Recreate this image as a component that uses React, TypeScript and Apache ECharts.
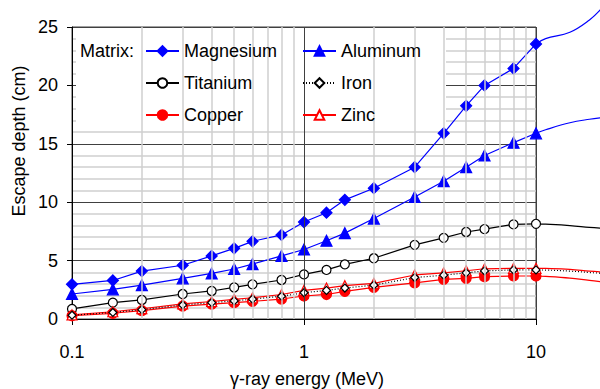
import React, { useEffect, useRef } from "react";
import * as echarts from "echarts";

const energies = [0.1, 0.15, 0.2, 0.3, 0.4, 0.5, 0.6, 0.8, 1, 1.25, 1.5, 2, 3, 4, 5, 6, 8, 10];
const magnesium = [2.97, 3.3, 4.1, 4.6, 5.4, 6.05, 6.65, 7.2, 8.3, 9.1, 10.2, 11.2, 13.0, 15.9, 18.25, 20.0, 21.45, 23.55];
const aluminum = [2.14, 2.54, 2.9, 3.48, 3.9, 4.28, 4.7, 5.4, 5.95, 6.7, 7.35, 8.6, 10.45, 11.8, 13.0, 14.0, 15.1, 15.9];
const titanium = [0.86, 1.4, 1.63, 2.14, 2.4, 2.7, 2.97, 3.34, 3.82, 4.2, 4.68, 5.2, 6.35, 6.95, 7.45, 7.7, 8.1, 8.15];
const copper = [0.28, 0.49, 0.71, 1.11, 1.27, 1.4, 1.51, 1.71, 1.97, 2.1, 2.37, 2.7, 3.1, 3.4, 3.48, 3.62, 3.68, 3.68];
const zinc = [0.35, 0.62, 0.88, 1.3, 1.5, 1.68, 1.82, 2.1, 2.45, 2.65, 2.85, 3.05, 3.77, 3.95, 4.13, 4.3, 4.34, 4.34];
const iron = [0.32, 0.56, 0.8, 1.2, 1.4, 1.55, 1.7, 1.95, 2.25, 2.45, 2.65, 2.9, 3.55, 3.75, 3.95, 4.12, 4.2, 4.2];

// Curves continuing past 10 MeV (no markers), running off the right edge
const extEnergies = [10, 11, 14, 17, 19];
const magnesiumExt = [23.55, 24.0, 24.55, 25.6, 26.5];
const aluminumExt = [15.9, 16.2, 16.8, 17.1, 17.22];
const titaniumExt = [8.15, 8.12, 8.0, 7.85, 7.78];
const copperExt = [3.68, 3.65, 3.5, 3.3, 3.2];
const zincExt = [4.34, 4.33, 4.25, 4.1, 4.03];
const ironExt = [4.2, 4.19, 4.1, 3.98, 3.92];

const minorEnergyLines = [0.2, 0.3, 0.4, 0.5, 0.6, 0.7, 0.8, 0.9, 2, 3, 4, 5, 6, 7, 8, 9];
const majorEnergyLines = [1];

const xTitle = "γ-ray energy (MeV)";
const yTitle = "Escape depth (cm)";
const legendTitle = "Matrix:";

const FONT = "Liberation Sans, Arial, sans-serif";

// layout
const W = 600;
const GL = 72, GR = 64, GT = 27, GB = 70;
const H = 389;

function pairs(xs: number[], ys: number[]) {
  return xs.map((x, i) => [x, ys[i]]);
}

export default function App() {
  const ref = useRef<HTMLDivElement>(null);
  useEffect(() => {
    if (!ref.current) return;
    const chart = echarts.init(ref.current, undefined, { renderer: "svg" });
    const blue = "#0000ff";
    const red = "#ff0000";
    const black = "#000000";
    const lw = 1.2;

    // second (hidden) coordinate system spanning to the page's right/top edges,
    // with the same scale as the main one
    const plotW = W - GL - GR;
    const plotH = H - GT - GB;
    const x2Max = Math.pow(10, -1 + (2 * (W - GL)) / plotW);
    const y2Max = (25 * (H - GB)) / plotH;

    const main = (name: string, ys: number[], color: string, symbol: string, size: number, fill: string, lineType: any = "solid", lineColor?: string) => ({
      name,
      type: "line",
      z: 3,
      data: pairs(energies, ys),
      symbol,
      symbolSize: size,
      showSymbol: true,
      lineStyle: { color: lineColor || color, width: lw, type: lineType },
      itemStyle: { color: fill, borderColor: color, borderWidth: 1.2 },
      emphasis: { disabled: true },
    });
    const ext = (name: string, ys: number[], color: string, lineType: any = "solid") => ({
      name: name + " ext",
      type: "line",
      xAxisIndex: 1,
      yAxisIndex: 1,
      z: 3,
      clip: false,
      smooth: 0.4,
      data: pairs(extEnergies, ys),
      symbol: "none",
      showSymbol: false,
      lineStyle: { color, width: lw, type: lineType },
      itemStyle: { color },
      emphasis: { disabled: true },
    });

    const legendCommon = {
      orient: "vertical",
      top: 42,
      padding: 0,
      itemWidth: 33,
      itemHeight: 12,
      itemGap: 14,
      textStyle: { fontSize: 18, color: black, fontFamily: FONT },
      selectedMode: false,
      z: 6,
    };

    chart.setOption({
      animation: false,
      backgroundColor: "#ffffff",
      grid: [
        {
          left: GL,
          right: GR,
          top: GT,
          bottom: GB,
          show: true,
          borderColor: "#404040",
          borderWidth: 1,
          backgroundColor: "transparent",
        },
        { left: GL, right: 0, top: 0, bottom: GB, show: false },
      ],
      xAxis: [
        {
          type: "log",
          logBase: 10,
          min: 0.1,
          max: 10,
          axisLine: { show: true, lineStyle: { color: black, width: 1 } },
          axisTick: { show: true, inside: false, length: 6, lineStyle: { color: black } },
          axisLabel: { color: black, fontSize: 18, fontFamily: FONT, margin: 24 },
          splitLine: { show: true, lineStyle: { color: "#404040", width: 1 } },
          minorTick: { show: false },
        },
        {
          type: "log",
          logBase: 10,
          gridIndex: 1,
          min: 0.1,
          max: x2Max,
          show: false,
        },
      ],
      yAxis: [
        {
          type: "value",
          min: 0,
          max: 25,
          interval: 5,
          axisLine: { show: true, lineStyle: { color: black, width: 1 } },
          axisTick: { show: true, inside: false, length: 5, lineStyle: { color: black } },
          axisLabel: { color: black, fontSize: 18, fontFamily: FONT, margin: 14 },
          splitLine: { show: true, lineStyle: { color: "#404040", width: 1 } },
          minorTick: { show: false, splitNumber: 5 },
          minorSplitLine: { show: true, lineStyle: { color: "#cfcfcf", width: 1.5 } },
        },
        {
          type: "value",
          gridIndex: 1,
          min: 0,
          max: y2Max,
          show: false,
          splitLine: { show: false },
        },
      ],
      legend: [
        { ...legendCommon, data: ["Magnesium", "Titanium", "Copper"], left: 145 },
        { ...legendCommon, data: ["Aluminum", "Iron", "Zinc"], left: 302 },
      ],
      graphic: [
        {
          type: "rect",
          z: 2,
          silent: true,
          shape: { x: 76, y: 29, width: 370, height: 100 },
          style: { fill: "#ffffff" },
        },
        {
          type: "text",
          z: 6,
          x: 80,
          y: 51,
          style: { text: legendTitle, fill: black, fontSize: 18, fontFamily: FONT, verticalAlign: "middle", align: "left" },
        },
        {
          type: "text",
          z: 6,
          x: 307,
          y: 379,
          style: { text: xTitle, fill: black, fontSize: 18, fontFamily: FONT, verticalAlign: "middle", align: "center" },
        },
        {
          type: "text",
          z: 6,
          x: 19,
          y: 141,
          rotation: Math.PI / 2,
          style: { text: yTitle, fill: black, fontSize: 18, fontFamily: FONT, verticalAlign: "middle", align: "center" },
        },
      ],
      series: [
        {
          name: "gridlines",
          type: "line",
          z: 1,
          data: [],
          silent: true,
          markLine: {
            silent: true,
            symbol: "none",
            label: { show: false },
            animation: false,
            data: [
              ...minorEnergyLines.map((e) => ({ xAxis: e, lineStyle: { color: "#cfcfcf", width: 1.5, type: "solid" } })),
              ...majorEnergyLines.map((e) => ({ xAxis: e, lineStyle: { color: "#404040", width: 1, type: "solid" } })),
            ],
          },
        },
        main("Magnesium", magnesium, blue, "diamond", 11, blue),
        main("Aluminum", aluminum, blue, "triangle", 11, blue),
        main("Titanium", titanium, black, "circle", 9, "#ffffff"),
        main("Copper", copper, red, "circle", 10, red),
        main("Zinc", zinc, red, "triangle", 10, "#ffffff"),
        main("Iron", iron, black, "diamond", 8, "#ffffff", [1, 2], black),
        ext("Magnesium", magnesiumExt, blue),
        ext("Aluminum", aluminumExt, blue),
        ext("Titanium", titaniumExt, black),
        ext("Copper", copperExt, red),
        ext("Zinc", zincExt, red),
        ext("Iron", ironExt, black, [1, 2]),
      ],
    });
    return () => chart.dispose();
  }, []);
  return (
    <div
      ref={ref}
      style={{ position: "fixed", left: 0, top: 0, width: W, height: H, background: "#fff" }}
    />
  );
}
